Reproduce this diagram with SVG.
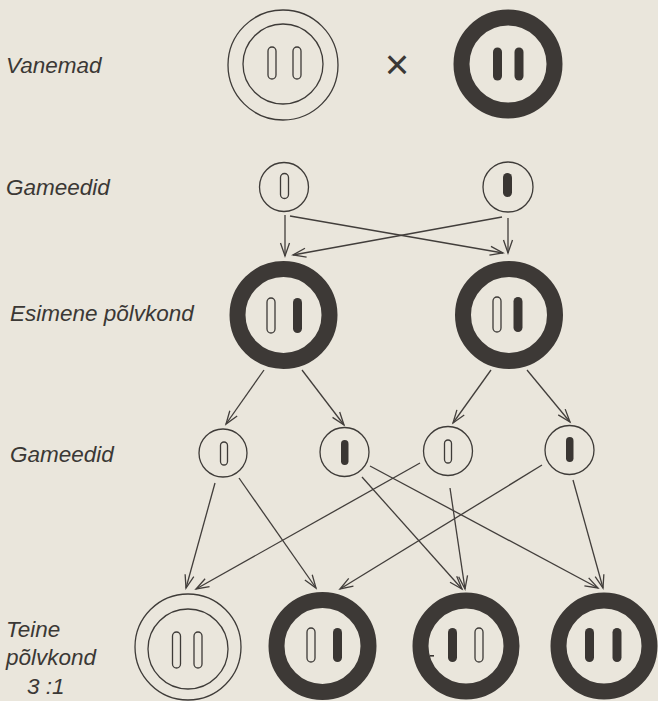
<svg xmlns="http://www.w3.org/2000/svg" width="658" height="701" viewBox="0 0 658 701">
  <style>
    .paper{fill:#eae6dc}
    .label{font-family:"Liberation Sans","Noto Sans",sans-serif;font-style:italic;font-size:22.5px;fill:#3b3835}
    .cross{font-family:"Liberation Sans","DejaVu Sans",sans-serif;font-size:42px;fill:#3b3835}
    .thin{fill:none;stroke:#3e3b38;stroke-width:1.3}
    .ring{fill:none;stroke:#3d3936;stroke-width:16}
    .chr-open{fill:#eae6dc;stroke:#3e3b38;stroke-width:1.3}
    .chr-fill{fill:#3a3633}
    .link{fill:none;stroke:#423e3b;stroke-width:1.3;marker-end:url(#arrow)}
  </style>
  <defs>
    <marker id="arrow" markerUnits="userSpaceOnUse" viewBox="-15 -7 17 14" refX="0" refY="0" markerWidth="17" markerHeight="14" orient="auto" overflow="visible">
      <path d="M-13,-4.5 L0,0 L-13,4.5" fill="none" stroke="#423e3b" stroke-width="1.3"/>
    </marker>
  </defs>

  <rect class="paper" x="0" y="0" width="658" height="701"/>

  <!-- row labels -->
  <g id="labels">
    <text class="label" x="6" y="73">Vanemad</text>
    <text class="label" x="6" y="195">Gameedid</text>
    <text class="label" x="10" y="321">Esimene põlvkond</text>
    <text class="label" x="10" y="462">Gameedid</text>
    <text class="label" x="6" y="637">Teine</text>
    <text class="label" x="6" y="665">põlvkond</text>
    <text class="label" x="27" y="694">3 :1</text>
  </g>

  <!-- parents -->
  <g id="parent-white">
    <circle class="thin" cx="283" cy="65" r="55"/>
    <circle class="thin" cx="283" cy="64" r="40"/>
    <rect class="chr-open" x="268" y="47" width="8" height="32" rx="4"/>
    <rect class="chr-open" x="293" y="47" width="8" height="32" rx="4"/>
  </g>
  <text id="cross" class="cross" x="397" y="79" text-anchor="middle">×</text>
  <g id="parent-dark">
    <circle class="ring" cx="508" cy="64" r="46.5"/>
    <rect class="chr-fill" x="493" y="47.5" width="9" height="33" rx="4.5"/>
    <rect class="chr-fill" x="514.5" y="47.5" width="9" height="33" rx="4.5"/>
  </g>

  <!-- gametes of the parents -->
  <g id="gamete-p1">
    <circle class="thin" cx="284" cy="187" r="24.5"/>
    <rect class="chr-open" x="280.5" y="173.5" width="8" height="25" rx="4"/>
  </g>
  <g id="gamete-p2">
    <circle class="thin" cx="508" cy="187" r="25"/>
    <rect class="chr-fill" x="503" y="173" width="9" height="24" rx="4.5"/>
  </g>

  <!-- first generation -->
  <g id="f1-left">
    <circle class="ring" cx="283.5" cy="315" r="46"/>
    <rect class="chr-open" x="267" y="298" width="8" height="35" rx="4"/>
    <rect class="chr-fill" x="293" y="298" width="9" height="35" rx="4.5"/>
  </g>
  <g id="f1-right">
    <circle class="ring" cx="509" cy="315" r="46"/>
    <rect class="chr-open" x="493" y="297" width="8" height="35" rx="4"/>
    <rect class="chr-fill" x="513.5" y="297" width="9" height="35" rx="4.5"/>
  </g>

  <!-- gametes of the first generation -->
  <g id="gamete-f1a">
    <circle class="thin" cx="223" cy="453" r="24"/>
    <rect class="chr-open" x="220.5" y="442" width="7" height="23" rx="3.5"/>
  </g>
  <g id="gamete-f1b">
    <circle class="thin" cx="344.5" cy="452" r="24.5"/>
    <rect class="chr-fill" x="341" y="440" width="7.5" height="25" rx="3.7"/>
  </g>
  <g id="gamete-f1c">
    <circle class="thin" cx="448" cy="451" r="24.5"/>
    <rect class="chr-open" x="444.5" y="440" width="7" height="23" rx="3.5"/>
  </g>
  <g id="gamete-f1d">
    <circle class="thin" cx="569.5" cy="450" r="24.5"/>
    <rect class="chr-fill" x="566" y="437" width="7.5" height="25" rx="3.7"/>
  </g>

  <!-- second generation -->
  <g id="f2-1">
    <circle class="thin" cx="188" cy="647" r="53"/>
    <circle class="thin" cx="188" cy="649" r="40"/>
    <rect class="chr-open" x="172.5" y="632" width="8" height="36" rx="4"/>
    <rect class="chr-open" x="194" y="632" width="8" height="36" rx="4"/>
  </g>
  <g id="f2-2">
    <circle class="ring" cx="322.5" cy="646" r="46"/>
    <rect class="chr-open" x="307" y="628" width="8" height="34" rx="4"/>
    <rect class="chr-fill" x="333" y="628" width="9" height="34" rx="4.5"/>
  </g>
  <g id="f2-3">
    <circle class="ring" cx="466" cy="646" r="45.5"/>
    <rect class="chr-fill" x="448" y="628" width="9" height="34" rx="4.5"/>
    <rect class="chr-open" x="475" y="628" width="8" height="34" rx="4"/>
    <rect class="chr-fill" x="430" y="655" width="4" height="1.6"/>
  </g>
  <g id="f2-4">
    <circle class="ring" cx="604" cy="646" r="45.5"/>
    <rect class="chr-fill" x="585" y="628" width="9" height="34" rx="4.5"/>
    <rect class="chr-fill" x="612.5" y="628" width="9" height="34" rx="4.5"/>
  </g>

  <!-- connectors -->
  <g id="connectors">
    <path class="link" d="M285,215 L285,256"/>
    <path class="link" d="M290,216 L503,253"/>
    <path class="link" d="M502,217 L293,255"/>
    <path class="link" d="M508,218 L508,253"/>

    <path class="link" d="M264,370 L226,424"/>
    <path class="link" d="M302,370 L344,425"/>
    <path class="link" d="M491,370 L453,423"/>
    <path class="link" d="M527,370 L570,422"/>

    <path class="link" d="M215,483 L186,588"/>
    <path class="link" d="M239,478 L316,588"/>
    <path class="link" d="M362,477 L462,589"/>
    <path class="link" d="M370,466 L598,588"/>
    <path class="link" d="M420,463 L196,589"/>
    <path class="link" d="M450,488 L465,589"/>
    <path class="link" d="M542,465 L340,589"/>
    <path class="link" d="M573,480 L603,588"/>
  </g>
</svg>
